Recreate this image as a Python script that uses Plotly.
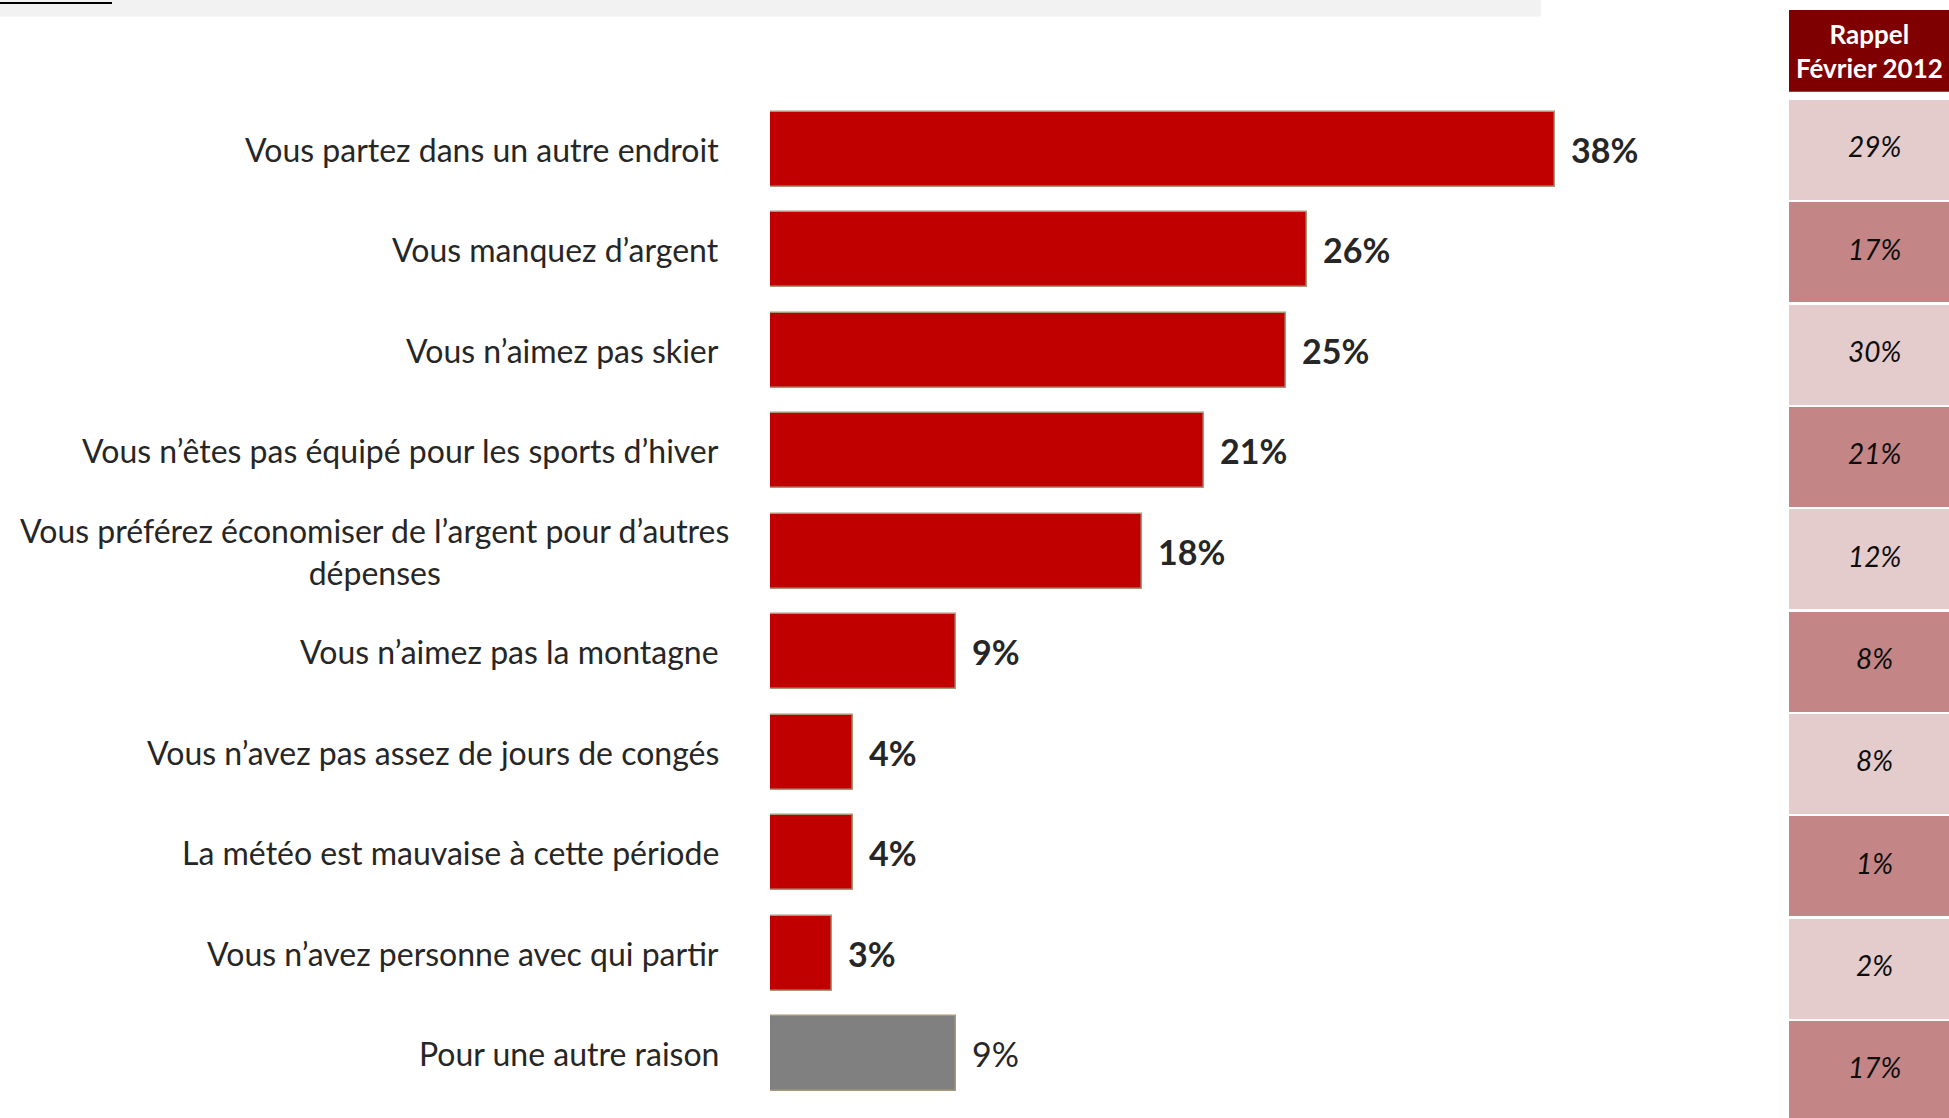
import plotly.graph_objects as go

categories = [
    "Vous partez dans un autre endroit",
    "Vous manquez d’argent",
    "Vous n’aimez pas skier",
    "Vous n’êtes pas équipé pour les sports d’hiver",
    "Vous préférez économiser de l’argent pour d’autres<br>dépenses",
    "Vous n’aimez pas la montagne",
    "Vous n’avez pas assez de jours de congés",
    "La météo est mauvaise à cette période",
    "Vous n’avez personne avec qui partir",
    "Pour une autre raison",
]
values_2013 = [38, 26, 25, 21, 18, 9, 4, 4, 3, 9]
values_feb2012 = [29, 17, 30, 21, 12, 8, 8, 1, 2, 17]
header_text = "Rappel<br>Février 2012"

W, H = 1949, 1118
FONT = "Lato"
RED = "#C00000"
GREY = "#808080"
EDGE = "#A8987A"
TXT = "#262626"
LIGHT = "#E4CBCC"
DARK = "#C48586"

main_cats = categories[:-1]
main_vals = values_2013[:-1]
other_cats = categories[-1:]
other_vals = values_2013[-1:]

fig = go.Figure()
fig.add_trace(go.Bar(
    x=main_vals, y=main_cats, orientation="h", width=0.745,
    marker=dict(color=RED, line=dict(color=EDGE, width=1.5)),
    hoverinfo="skip", showlegend=False,
))
fig.add_trace(go.Bar(
    x=other_vals, y=other_cats, orientation="h", width=0.745,
    marker=dict(color=GREY, line=dict(color=EDGE, width=1.5)),
    hoverinfo="skip", showlegend=False,
))

# right-hand recall column
cell_colors = [LIGHT if i % 2 == 0 else DARK for i in range(len(categories))]
fig.add_trace(go.Bar(
    x=[1] * len(categories), y=categories, orientation="h", width=0.977,
    marker=dict(color=cell_colors, line=dict(width=0)),
    xaxis="x2", yaxis="y2", hoverinfo="skip", showlegend=False,
))
fig.add_trace(go.Scatter(
    x=[0.535] * len(categories), y=categories, mode="text",
    text=[f"{v}%" for v in values_feb2012],
    textposition="middle center",
    textfont=dict(family=FONT, size=28, color="#0d0d0d", style="italic"),
    xaxis="x2", yaxis="y2", hoverinfo="skip", showlegend=False,
))

annotations = []
for i, (c, v) in enumerate(zip(categories, values_2013)):
    multi = "<br>" in c
    annotations.append(dict(
        x=(731 if multi else 721) / W, xref="paper", y=c, yref="y",
        text=c, showarrow=False, xanchor="right", yanchor="middle",
        align="center" if multi else "right",
        font=dict(family=FONT, size=32, color=TXT),
    ))
    last = i == len(categories) - 1
    annotations.append(dict(
        x=v, xref="x", y=c, yref="y", text=f"{v}%", showarrow=False,
        xanchor="left", yanchor="middle", xshift=14,
        font=dict(family=FONT, size=34, color=TXT,
                  weight="normal" if last else "bold"),
    ))

annotations.append(dict(
    x=1869 / W, xref="paper", y=1 - 51 / H, yref="paper",
    text=header_text, showarrow=False, xanchor="center", yanchor="middle",
    align="center", font=dict(family=FONT, size=26, color="white", weight="bold"),
))

shapes = [
    dict(type="rect", xref="paper", yref="paper", x0=1789 / W, x1=1.02,
         y0=1 - 91.7 / H, y1=1 - 10 / H, fillcolor="#7F0000", line=dict(width=0),
         layer="below"),
    dict(type="rect", xref="paper", yref="paper", x0=0, x1=1541 / W,
         y0=1 - 16.5 / H, y1=1.01, fillcolor="#F2F2F2", line=dict(width=0),
         layer="below"),
    dict(type="line", xref="paper", yref="paper", x0=0, x1=112 / W,
         y0=1 - 3 / H, y1=1 - 3 / H, line=dict(color="black", width=2)),
]

x0_px, px_per_pct = 770, 20.65
x_end_px = 1700
fig.update_layout(
    width=W, height=H,
    margin=dict(l=0, r=0, t=0, b=0),
    paper_bgcolor="white", plot_bgcolor="rgba(0,0,0,0)",
    bargap=0,
    xaxis=dict(domain=[x0_px / W, x_end_px / W],
               range=[0, (x_end_px - x0_px) / px_per_pct],
               visible=False, fixedrange=True),
    yaxis=dict(domain=[1 - 1103.75 / H, 1 - 98.95 / H],
               categoryorder="array", categoryarray=categories,
               range=[len(categories) - 0.5, -0.5],
               visible=False, fixedrange=True),
    xaxis2=dict(domain=[1789 / W, 1], range=[0, 1], visible=False,
                anchor="y2", fixedrange=True),
    yaxis2=dict(domain=[0, 1 - 99.3 / H], categoryorder="array",
                categoryarray=categories, range=[9.457, -0.5],
                visible=False, anchor="x2", fixedrange=True),
    annotations=annotations,
    shapes=shapes,
)

fig.write_html(
    "out.html",
    config={"displayModeBar": False},
    post_script="document.body.style.margin='0px';document.body.style.overflow='hidden';",
)
